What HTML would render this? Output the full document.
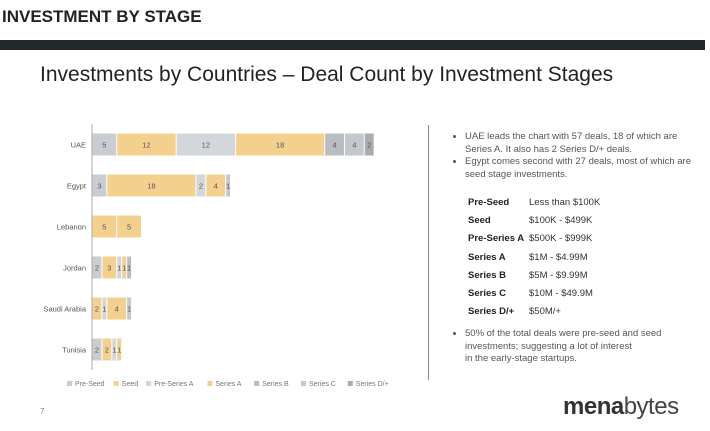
<!DOCTYPE html>
<html><head><meta charset="utf-8"><style>
body{margin:0;width:710px;height:431px;background:#fff;font-family:"Liberation Sans",sans-serif;position:relative;overflow:hidden}
.h{position:absolute;left:2px;top:7px;font-size:17px;font-weight:bold;color:#222}
.bar{position:absolute;left:0;top:40px;width:705px;height:10px;background:#202a2b}
.sub{position:absolute;left:40px;top:63px;font-size:21px;color:#222;letter-spacing:0px}
.vl{position:absolute;left:428px;top:125px;width:1px;height:255px;background:#888}
.txt{position:absolute;left:455px;top:131px;font-size:9.5px;color:#555;line-height:12.5px;width:250px}
.txt ul{margin:0;padding-left:10px}
.tbl{position:absolute;left:468px;top:194px;font-size:9.5px;color:#333;border-collapse:collapse;border-spacing:0}
.tbl td{height:18.2px;padding:0;line-height:18px}
.tbl td:first-child{font-weight:bold;width:61px;color:#222}
.logo{position:absolute;left:563px;top:393px;font-size:24px;color:#333;letter-spacing:-0.5px}
.pg{position:absolute;left:40px;top:407px;font-size:8px;color:#888}
</style></head><body>
<div class="h">INVESTMENT BY STAGE</div>
<div class="bar"></div>
<div class="sub">Investments by Countries – Deal Count by Investment Stages</div>
<svg id="chart" width="428" height="400" style="position:absolute;left:0;top:0"></svg>
<div class="vl"></div>
<div class="txt"><ul>
<li>UAE leads the chart with 57 deals, 18 of which are Series A. It also has 2 Series D/+ deals.</li>
<li>Egypt comes second with 27 deals, most of which are seed stage investments.</li></ul></div>
<table class="tbl">
<tr><td>Pre-Seed</td><td>Less than $100K</td></tr>
<tr><td>Seed</td><td>$100K - $499K</td></tr>
<tr><td>Pre-Series A</td><td>$500K - $999K</td></tr>
<tr><td>Series A</td><td>$1M - $4.99M</td></tr>
<tr><td>Series B</td><td>$5M - $9.99M</td></tr>
<tr><td>Series C</td><td>$10M - $49.9M</td></tr>
<tr><td>Series D/+</td><td>$50M/+</td></tr>
</table>
<div class="txt" style="top:328px"><ul>
<li>50% of the total deals were pre-seed and seed investments; suggesting a lot of interest<br>in the early-stage startups.</li></ul></div>
<div class="pg">7</div>
<div class="logo"><b>mena</b><span style="font-weight:300;color:#444">bytes</span></div>
<script>
const categories=["UAE","Egypt","Lebanon","Jordan","Saudi Arabia","Tunisia"];
const seriesNames=["Pre-Seed","Seed","Pre-Series A","Series A","Series B","Series C","Series D/+"];
const preSeed=[5,3,0,2,0,2];
const seed=[12,18,5,3,2,2];
const preSeriesA=[12,2,0,1,1,1];
const seriesA=[18,4,5,1,4,1];
const seriesB=[4,0,0,1,0,0];
const seriesC=[4,1,0,0,1,0];
const seriesD=[2,0,0,0,0,0];
const series=[preSeed,seed,preSeriesA,seriesA,seriesB,seriesC,seriesD];
const colors=["#c9cdd3","#f4d08e","#d3d6db","#f4d08e","#b9bcc1","#c4c7cc","#a9acb1"];
const ns="http://www.w3.org/2000/svg";
const svg=document.getElementById('chart');
const x0=92,unit=4.95,yTop=124,band=41,bh=22;
const xs=v=>x0+v*unit, yc=i=>yTop+band*i+band/2;
function mk(t,a){const e=document.createElementNS(ns,t);for(const k in a)e.setAttribute(k,a[k]);svg.appendChild(e);return e;}
categories.forEach((c,i)=>{
  let acc=0;
  const lab=mk('text',{x:x0-6,y:yc(i)+3,'text-anchor':'end','font-size':7.5,fill:'#555'});
  lab.textContent=c;
  
  
  series.forEach((s,j)=>{
    const v=s[i]; if(!v)return;
    const r=mk('rect',{x:xs(acc)+0.5,y:yc(i)-bh/2,width:v*unit-1,height:bh,fill:colors[j]});
    
    
    const t=mk('text',{x:xs(acc+v/2),y:yc(i)+3,'text-anchor':'middle','font-size':7.5,fill:'#555'});
    t.textContent=v;
    
    
    acc+=v;
  });
});
const ax=mk('line',{x1:x0,x2:x0,y1:yTop,y2:yTop+band*6,stroke:'#aaa','stroke-width':1});


let lx=67;
seriesNames.forEach((n,j)=>{
  const sq=mk('rect',{x:lx,y:381,width:5,height:5,fill:colors[j]});
  
  
  const t=mk('text',{x:lx+8,y:386,'font-size':7,fill:'#777'});
  t.textContent=n;
  
  
  lx+=8+n.length*3.6+10;
});
</script>
</body></html>
